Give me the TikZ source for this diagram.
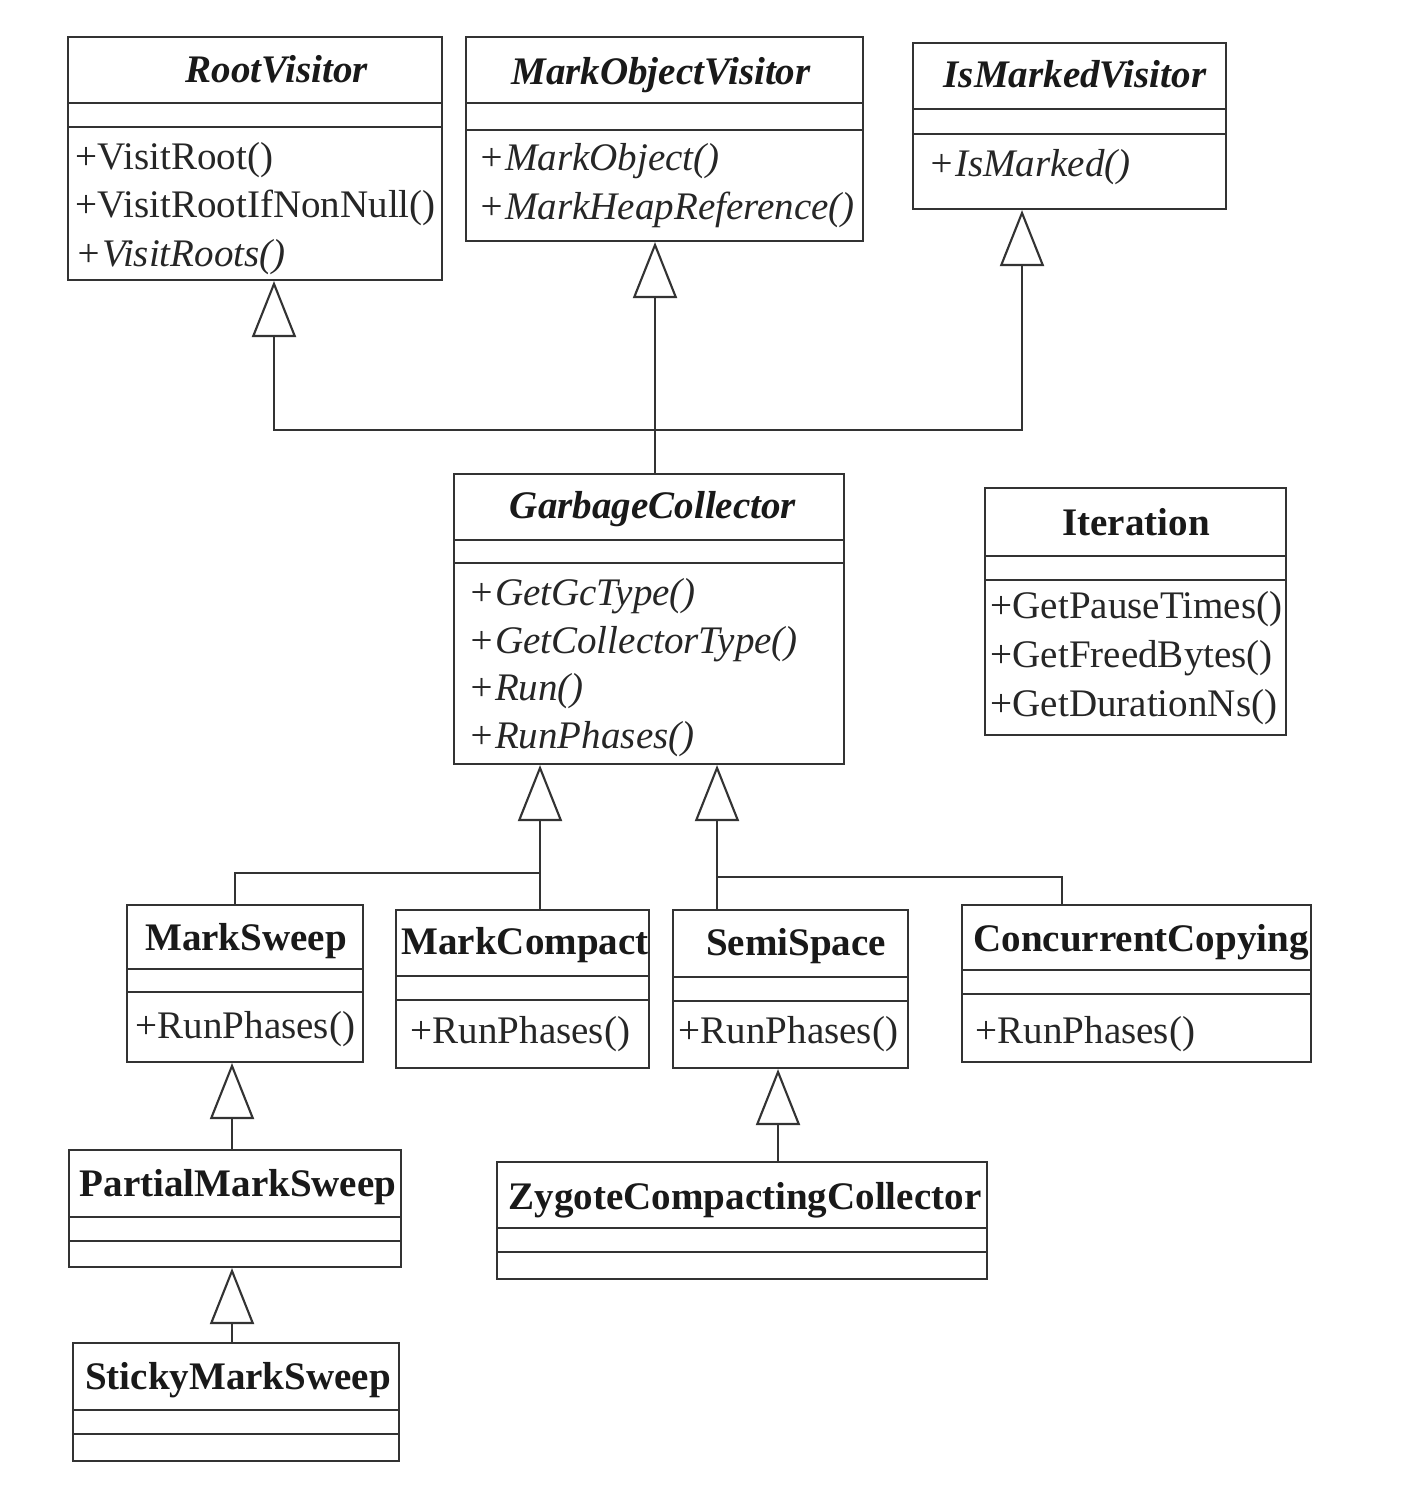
\documentclass[tikz,border=0pt]{standalone}
\usepackage{fontspec}
\setmainfont{Liberation Serif}
\usetikzlibrary{arrows.meta,positioning,fit}

\tikzset{
  classbox/.style={draw=black!80,line width=0.6pt,inner sep=0pt},
  rule/.style={draw=black!80,line width=0.6pt},
  cname/.style={inner sep=0pt,anchor=base,font=\bfseries,text=black!90},
  aname/.style={cname,font=\bfseries\itshape},
  op/.style={inner sep=0pt,anchor=base west,text=black!85},
  aop/.style={op,font=\itshape},
  gen/.style={draw=black!80,line width=0.6pt,-{Triangle[open,length=0.56cm,width=0.44cm]}},
}

\begin{document}
\fontsize{11.1pt}{13pt}\selectfont
\begin{tikzpicture}[x=0.01cm,y=-0.01cm]
 \path[use as bounding box,fill=white] (0,0) rectangle (1410,1486);
 % class boxes: name/left/top/right/bottom/first rule/second rule
 \foreach \n/\l/\t/\r/\b/\ya/\yb in {rv/68/37/442/280/103/127, mov/466/37/863/241/103/130, imv/913/43/1226/209/109/134,
   gc/454/474/844/764/540/563, it/985/488/1286/735/556/580, ms/127/905/363/1062/969/992, mc/396/910/649/1068/976/1000,
   ss/673/910/908/1068/977/1001, cc/962/905/1311/1062/970/994, pms/69/1150/401/1267/1217/1241,
   zcc/497/1162/987/1279/1228/1252, sms/73/1343/399/1461/1410/1434}{
  \node[classbox,fit={(\l,\t) (\r,\b)}] (\n) {};
  \draw[rule] (\l,\ya) -- (\r,\ya); \draw[rule] (\l,\yb) -- (\r,\yb);
 }
 % class names
 \node[aname] (rvT) at (277,83) {RootVisitor};
 \node[aname] (movT) at (661,85) {MarkObjectVisitor};
 \node[aname] (imvT) at (1075,88) {IsMarkedVisitor};
 \node[aname] (gcT) at (653,519) {GarbageCollector};
 \node[cname] (itT) at (1136,536) {Iteration};
 \node[cname] (msT) at (246,950) {MarkSweep}; \node[cname] (mcT) at (525,954) {MarkCompact};
 \node[cname] (ssT) at (796,955) {SemiSpace}; \node[cname] (ccT) at (1141,951) {ConcurrentCopying};
 \node[cname] (pmsT) at (238,1196) {PartialMarkSweep};
 \node[cname] (zccT) at (745,1209) {ZygoteCompactingCollector};
 \node[cname] (smsT) at (238,1389) {StickyMarkSweep};
 % operations
 \node[op] (rvM1) at (75,170) {+VisitRoot()}; \node[op] (rvM2) at (75,218) {+VisitRootIfNonNull()};
 \node[aop] (rvM3) at (75,267) {+VisitRoots()};
 \node[aop] (movM1) at (478,171) {+MarkObject()}; \node[aop] (movM2) at (478,220) {+MarkHeapReference()};
 \node[aop] (imvM1) at (928,177) {+IsMarked()};
 \foreach \i/\y/\m in {1/605/+GetGcType(),2/653/+GetCollectorType(),3/700/+Run(),4/748/+RunPhases()}
  \node[aop] (gcM\i) at (468,\y) {\m};
 \foreach \i/\y/\m in {1/618/+GetPauseTimes(),2/667/+GetFreedBytes(),3/716/+GetDurationNs()}
  \node[op] (itM\i) at (990,\y) {\m};
 \node[op] (msM1) at (135,1038) {+RunPhases()}; \node[op] (mcM1) at (410,1043) {+RunPhases()};
 \node[op] (ssM1) at (678,1043) {+RunPhases()}; \node[op] (ccM1) at (975,1043) {+RunPhases()};
 % connector positions
 \coordinate (jtop) at (655,430); \coordinate (xrv) at (274,0); \coordinate (ximv) at (1022,0);
 \coordinate (jl) at (540,873); \coordinate (jr) at (717,877); \coordinate (xms) at (235,0); \coordinate (xcc) at (1062,0);
 \coordinate (xpm) at (232,0); \coordinate (xss) at (778,0);
 % generalisations
 \draw[rule] (gc.north -| jtop) -- (jtop);
 \draw[gen] (jtop) -- (mov.south -| jtop);
 \draw[gen] (jtop) -| (rv.south -| xrv); \draw[gen] (jtop) -| (imv.south -| ximv);
 \draw[gen] (ms.north -| xms) |- (jl) -- (gc.south -| jl); \draw[rule] (mc.north -| jl) -- (jl);
 \draw[gen] (cc.north -| xcc) |- (jr) -- (gc.south -| jr); \draw[rule] (ss.north -| jr) -- (jr);
 \draw[gen] (pms.north -| xpm) -- (ms.south -| xpm);
 \draw[gen] (sms.north -| xpm) -- (pms.south -| xpm);
 \draw[gen] (zcc.north -| xss) -- (ss.south -| xss);
\end{tikzpicture}
\end{document}
